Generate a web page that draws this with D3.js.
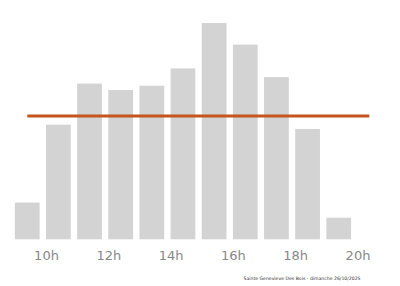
<!DOCTYPE html>
<html>
<head>
<meta charset="utf-8">
<script src="https://cdn.jsdelivr.net/npm/d3@7"></script>
<style>
  body { margin: 0; background: #fff; }
  svg { display: block; }
</style>
</head>
<body>
<div id="chart"></div>
<script>
(function() {
  'use strict';

  // hours and relative attendance (max = 100)
  var hours = [9, 10, 11, 12, 13, 14, 15, 16, 17, 18, 19];
  var values = [17, 53, 72, 69, 71, 79, 100, 90, 75, 51, 10];
  var tickHours = [10, 12, 14, 16, 18, 20];
  var avgValue = 57;
  var avgSpan = [9.4, 20.38];
  var caption = 'Sainte Genevieve Des Bois - dimanche 26/10/2025';

  var svgW = 400,
    svgH = 286;

  var svg = d3.select('#chart')
    .append('svg')
    .attr('width', svgW)
    .attr('height', svgH);

  var x = d3.scaleLinear()
    .domain([9, 20])
    .range([14.85, 357.5]);

  var y = d3.scaleLinear()
    .domain([0, 100])
    .range([239.3, 23]);

  var barGap = 6.4;

  svg.selectAll('rect.bar')
    .data(values)
    .enter()
    .append('rect')
    .attr('class', 'bar')
    .attr('fill', '#d3d3d3')
    .attr('x', function(d, i) { return x(hours[i]); })
    .attr('width', function(d, i) { return x(hours[i] + 1) - x(hours[i]) - barGap; })
    .attr('y', function(d) { return y(d); })
    .attr('height', function(d) { return y(0) - y(d); });

  // average line
  svg.append('line')
    .attr('x1', x(avgSpan[0]))
    .attr('x2', x(avgSpan[1]))
    .attr('y1', y(avgValue))
    .attr('y2', y(avgValue))
    .attr('stroke', '#c4561d')
    .attr('stroke-width', 3);

  var axis = d3.axisBottom(x)
    .tickValues(tickHours)
    .tickSize(0)
    .tickPadding(0)
    .tickFormat(function(d) { return d + 'h'; });

  var g = svg.append('g')
    .attr('transform', 'translate(0,' + 251 + ')')
    .call(axis);

  g.select('.domain').remove();
  g.selectAll('text')
    .attr('fill', '#888')
    .attr('font-family', 'DejaVu Sans, sans-serif')
    .attr('font-size', 13)
    .attr('dy', '0.72em');

  svg.append('text')
    .attr('x', 302)
    .attr('y', 280)
    .attr('text-anchor', 'middle')
    .attr('font-family', 'DejaVu Sans, sans-serif')
    .attr('font-size', 4.6)
    .attr('fill', '#333')
    .text(caption);
}());
</script>
</body>
</html>
